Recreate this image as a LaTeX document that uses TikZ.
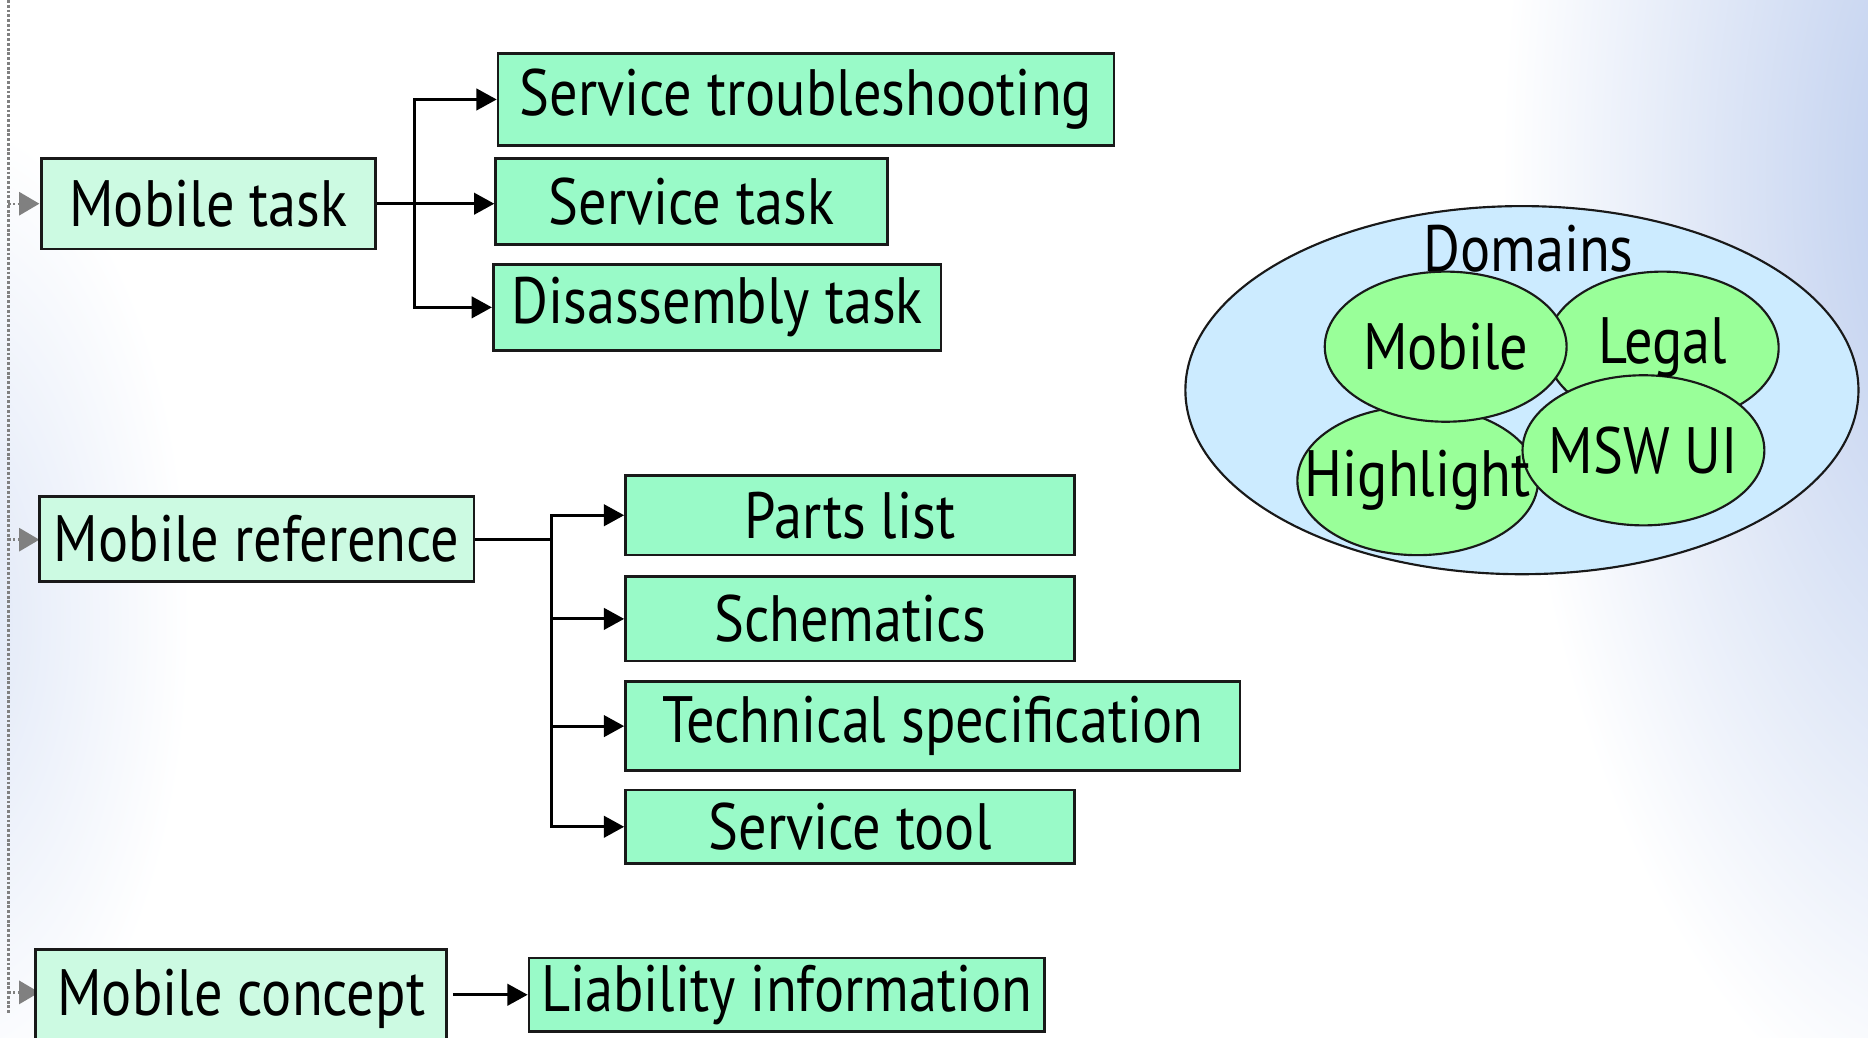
\documentclass[tikz,border=0pt]{standalone}
\usepackage{fontspec}
\setmainfont{PT Sans}[FakeStretch=0.86]
\usetikzlibrary{arrows.meta,shapes.geometric}

\definecolor{rootfill}{RGB}{204,250,226}
\definecolor{leaffill}{RGB}{153,250,200}
\definecolor{domfill}{RGB}{204,235,255}
\definecolor{blobfill}{RGB}{153,255,153}
\definecolor{edge}{RGB}{25,25,25}
\definecolor{glow}{RGB}{182,200,236}
\definecolor{marker}{RGB}{128,128,128}

\tikzset{
  x=0.5pt, y=-0.5pt,
  every node/.style={font=\fontsize{27.5}{32}\selectfont, text=black},
  box/.style={draw=edge, line width=1.1pt, rectangle, inner sep=0pt},
  rootbox/.style={box, fill=rootfill},
  leafbox/.style={box, fill=leaffill},
  conn/.style={draw=black, line width=1.2pt, -{Triangle[length=8.5pt,width=9pt]}},
  blob/.style={ellipse, draw=edge, line width=0.9pt, fill=blobfill, inner sep=0pt},
  bullet/.style={fill=marker, draw=none},
}

\begin{document}
\begin{tikzpicture}
\useasboundingbox (0,0) rectangle (1568,871);

% soft bluish background wash
\begin{scope}
  \clip (0,0) rectangle (1568,871);
  \shade[inner color=glow, outer color=white] (1660,150) ellipse (400 and 820);
  \shade[inner color=glow!45, outer color=white] (-40,520) ellipse (200 and 420);
\end{scope}

% left margin guide with bullet markers
\draw[marker, line width=1.3pt, dash pattern=on 1.2pt off 0.8pt] (7,0) -- (7,850);
\foreach \yy in {171,453,833} {
  \draw[marker, line width=1pt, dash pattern=on 1pt off 1pt] (7,\yy) -- (16,\yy);
  \path[bullet] (16,\yy-10) -- (33,\yy) -- (16,\yy+10) -- cycle;
}

% ---- Mobile task branch
\node[rootbox, minimum width=140pt, minimum height=38pt] (mt) at (175,171) {Mobile task};
\node[leafbox, minimum width=258.5pt, minimum height=38.5pt] (stt) at (676.5,83.5) {Service troubleshooting};
\node[leafbox, minimum width=164.5pt, minimum height=36pt] (st) at (580.5,169) {Service task};
\node[leafbox, minimum width=188pt, minimum height=36pt] (dt) at (602,258) {Disassembly task};

\draw[conn] (mt.east) -- ++(32,0) |- (stt.west);
\draw[conn] (mt.east) -- ++(32,0) |- (dt.west);
\draw[conn] (mt.east) -- (st.west |- mt.east);

% ---- Mobile reference branch
\node[rootbox, minimum width=182.5pt, minimum height=35.5pt] (mr) at (215.5,452.5) {Mobile reference};
\node[leafbox, minimum width=188.5pt, minimum height=33.5pt] (pl) at (713.5,432.5) {Parts list};
\node[leafbox, minimum width=188.5pt, minimum height=35.5pt] (sc) at (713.5,519.5) {Schematics};
\node[leafbox, minimum width=258pt, minimum height=37.5pt] (ts) at (783,609.5) {Technical specification};
\node[leafbox, minimum width=188.5pt, minimum height=31pt] (stool) at (713.5,694) {Service tool};

\foreach \child in {pl,sc,ts,stool}
  \draw[conn] (mr.east) -- ++(64,0) |- (\child.west);

% ---- Mobile concept branch
\node[rootbox, minimum width=172.5pt, minimum height=41.5pt] (mc) at (202.5,838.5) {Mobile concept};
\node[leafbox, minimum width=216.5pt, minimum height=31pt] (li) at (660.5,835) {Liability information};
\draw[conn, shorten <=2pt] (mc.east |- li.west) -- (li.west);

% ---- Domains diagram
\node[ellipse, draw=edge, line width=0.9pt, fill=domfill, minimum width=282.5pt, minimum height=154.5pt] (dom) at (1277.5,327.5) {};
\node (domlabel) at (1283,209) {Domains};
\node[blob, minimum width=97.5pt, minimum height=64pt] (legal) at (1395.5,292) {};
\node[blob, minimum width=101pt, minimum height=62.5pt] (hl) at (1190,403.5) {};
\node[blob, minimum width=101.5pt, minimum height=63pt] (mob) at (1213.5,291) {};
\node[blob, minimum width=101.5pt, minimum height=63pt] (msw) at (1379.5,378) {};
\node at (legal.center) {Legal};
\node at (hl.center) {Highlight};
\node at (mob.center) {Mobile};
\node at (msw.center) {MSW UI};
\end{tikzpicture}
\end{document}
